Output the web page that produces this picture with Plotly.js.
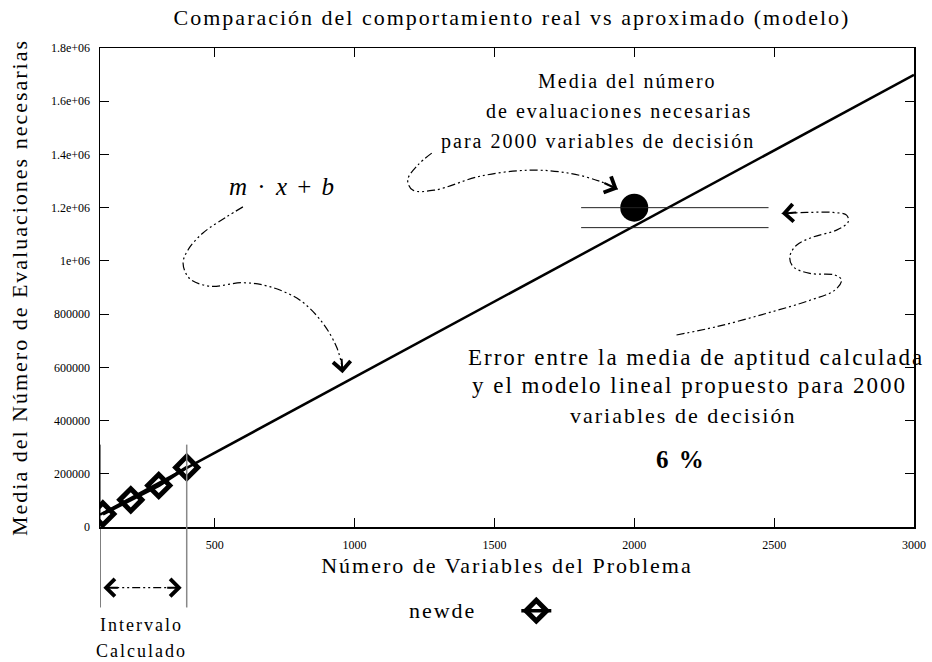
<!DOCTYPE html>
<html>
<head>
<meta charset="utf-8">
<script src="https://cdn.plot.ly/plotly-3.0.1.min.js"></script>
<style>
  html, body { margin: 0; padding: 0; background: #fff; }
  #chart { width: 932px; height: 662px; }
  /* wide, airy lettering for the titles and labels */
  .gtitle, .xtitle, .ytitle, .annotation-text, .legendtitletext { letter-spacing: 2px; }
</style>
</head>
<body>
<div id="chart"></div>
<script>
// Measured runs: number of variables vs mean number of evaluations
const variables = [100, 200, 300, 400];
const evaluations = [49000, 102000, 156000, 224000];

// Linear model m*x+b, drawn between the ends of the x range
const modelX = [90, 3000];
const modelY = [46000, 1699000];

// Mean evaluations measured for 2000 decision variables and the model's value there
const targetX = [2000];
const targetY = [1200000];
const modelAtTarget = 1125000;
const bandX = [1810, 2480];

// Calculated interval on the x axis
const intervalX = [90, 400];

// Axis ticks
const xTickVals = [500, 1000, 1500, 2000, 2500, 3000];
const xTickText = ['500', '1000', '1500', '2000', '2500', '3000'];
const yTickVals = [0, 200000, 400000, 600000, 800000, 1000000, 1200000, 1400000, 1600000, 1800000];
const yTickText = ['0', '200000', '400000', '600000', '800000', '1e+06', '1.2e+06', '1.4e+06', '1.6e+06', '1.8e+06'];

// Guide curves for the call-outs (data units)
const guideFormula = {
  x: [601, 542, 457, 404, 387, 410, 482, 601, 697, 804, 886, 935, 953, 957],
  y: [1203000, 1165000, 1104000, 1040000, 991000, 934000, 905000, 918000, 903000, 853000, 767000, 678000, 615000, 578000]
};
const guideTarget = {
  x: [1276, 1226, 1190, 1208, 1287, 1448, 1627, 1770, 1877, 1941],
  y: [1405000, 1360000, 1304000, 1266000, 1266000, 1318000, 1341000, 1329000, 1299000, 1269000]
};
const guideError = {
  x: [2151, 2294, 2473, 2628, 2717, 2741, 2717, 2628, 2568, 2556, 2580, 2640, 2723, 2765, 2759, 2711, 2616, 2527],
  y: [721600, 752700, 803000, 852000, 890000, 928000, 947000, 953000, 978000, 1015400, 1059000, 1090000, 1115600, 1147000, 1172000, 1182000, 1182000, 1178000]
};

const SERIF = '"Liberation Serif", "Times New Roman", serif';
const DASHDOT = '8px,3px,2px,3px,2px,3px';

function guide(c) {
  return {
    x: c.x, y: c.y, type: 'scatter', mode: 'lines',
    line: { color: '#000', width: 1.2, dash: DASHDOT, shape: 'spline', smoothing: 1 },
    hoverinfo: 'skip', showlegend: false
  };
}

const traces = [
  guide(guideFormula),
  guide(guideTarget),
  guide(guideError),
  {
    x: modelX, y: modelY, type: 'scatter', mode: 'lines',
    line: { color: '#000', width: 2.5 },
    name: 'modelo', showlegend: false
  },
  {
    x: variables, y: evaluations, type: 'scatter', mode: 'lines+markers',
    name: '',
    line: { color: '#000', width: 3.5 },
    marker: { symbol: 'diamond-open', size: 17, color: '#000', line: { color: '#000', width: 5 } },
    showlegend: true
  },
  {
    x: targetX, y: targetY, type: 'scatter', mode: 'markers',
    marker: { symbol: 'circle', size: 28, color: '#000' },
    name: 'media', showlegend: false
  }
];

const shapes = [
  // interval bounds, running below the x axis
  { type: 'line', xref: 'x', yref: 'paper', x0: intervalX[0], x1: intervalX[0], y0: 0.172, y1: -0.168,
    line: { color: '#000', width: 1 } },
  { type: 'line', xref: 'x', yref: 'paper', x0: intervalX[1], x1: intervalX[1], y0: 0.172, y1: -0.168,
    line: { color: '#888', width: 1.5 } },
  // interval arrow shaft
  { type: 'line', xref: 'x', yref: 'paper', x0: intervalX[0] + 40, x1: intervalX[1] - 40, y0: -0.1266, y1: -0.1266,
    line: { color: '#000', width: 1.2, dash: DASHDOT } },
  // measured mean and model value at 2000 variables
  { type: 'line', xref: 'x', yref: 'y', x0: bandX[0], x1: bandX[1], y0: targetY[0], y1: targetY[0],
    line: { color: '#222', width: 1 } },
  { type: 'line', xref: 'x', yref: 'y', x0: bandX[0], x1: bandX[1], y0: modelAtTarget, y1: modelAtTarget,
    line: { color: '#222', width: 1 } }
];

function arrowHead(x, y, ax, ay, yref) {
  return {
    x: x, y: y, xref: 'x', yref: yref || 'y', text: '', showarrow: true,
    ax: ax, ay: ay, axref: 'pixel', ayref: 'pixel',
    arrowhead: 4, arrowsize: 1.7, arrowwidth: 2, arrowcolor: '#000', standoff: 0, startstandoff: 0
  };
}

function label(text, x, y, size, extra) {
  return Object.assign({
    text: text, x: x, y: y, xref: 'x', yref: 'y', showarrow: false,
    xanchor: 'center', yanchor: 'middle',
    font: { family: SERIF, size: size || 22, color: '#000' }
  }, extra || {});
}

const annotations = [
  arrowHead(guideFormula.x[13], guideFormula.y[13], -1, -16),
  arrowHead(guideTarget.x[9], guideTarget.y[9], -15, -7),
  arrowHead(guideError.x[17], guideError.y[17], 16, -1),
  arrowHead(intervalX[0] + 12, -0.1266, 16, 0, 'paper'),
  arrowHead(intervalX[1] - 18, -0.1266, -16, 0, 'paper'),

  label('<i>m</i> · <i>x</i> + <i>b</i>', 743, 1281000, 25),
  label('Media del número', 1977, 1675000, 20),
  label('de evaluaciones necesarias', 1945, 1562000, 20),
  label('para 2000 variables de decisión', 1870, 1449000, 20),
  label('Error entre la media de aptitud calculada', 2220, 638800, 23),
  label('y el modelo lineal propuesto para 2000', 2199, 530000, 23),
  label('variables de decisión', 2177, 417600),
  label('<b>6 %</b>', 2167, 252500, 25),
  label('Intervalo', 239, -0.204, 18, { yref: 'paper' }),
  label('Calculado', 239, -0.258, 18, { yref: 'paper' })
];

const axisCommon = {
  showgrid: false, zeroline: false, showline: true, linecolor: '#000', linewidth: 1.5,
  mirror: 'ticks', ticks: 'inside', ticklen: 9, tickwidth: 1, tickcolor: '#000',
  tickfont: { family: SERIF, size: 12, color: '#000' }, ticklabelstandoff: 6
};

const layout = {
  width: 932, height: 662,
  margin: { l: 100, r: 18, t: 48, b: 135 },
  paper_bgcolor: '#fff', plot_bgcolor: '#fff',
  font: { family: SERIF, color: '#000' },
  title: {
    text: 'Comparación del comportamiento real vs aproximado (modelo)',
    x: 512 / 932, xanchor: 'center', xref: 'container', y: 1 - 17 / 662, yanchor: 'middle', yref: 'container',
    font: { family: SERIF, size: 22, color: '#000' }
  },
  xaxis: Object.assign({}, axisCommon, {
    range: [90, 3000], tickvals: xTickVals, ticktext: xTickText,
    title: { text: 'Número de Variables del Problema', font: { family: SERIF, size: 22, color: '#000' }, standoff: 6 }
  }),
  yaxis: Object.assign({}, axisCommon, {
    range: [0, 1800000], tickvals: yTickVals, ticktext: yTickText,
    title: { text: 'Media del Número de Evaluaciones necesarias', font: { family: SERIF, size: 22, color: '#000' }, standoff: 17 }
  }),
  showlegend: true,
  legend: {
    orientation: 'h', x: 0.377, xanchor: 'left', y: -0.175, yanchor: 'middle',
    bgcolor: 'rgba(0,0,0,0)', borderwidth: 0, indentation: 32,
    title: { text: 'newde', side: 'left', font: { family: SERIF, size: 22, color: '#000' } },
    font: { family: SERIF, size: 22, color: '#000' }
  },
  shapes: shapes,
  annotations: annotations
};

Plotly.newPlot('chart', traces, layout, { displayModeBar: false, staticPlot: true });
</script>
</body>
</html>
